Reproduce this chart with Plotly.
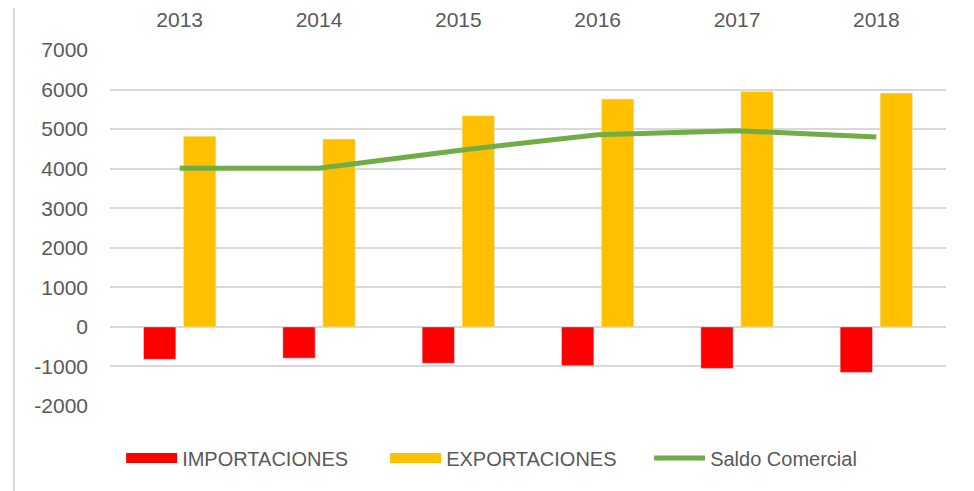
import plotly.graph_objects as go

# data
years = ["2013", "2014", "2015", "2016", "2017", "2018"]
importaciones = [-820, -790, -920, -980, -1050, -1150]
exportaciones = [4820, 4750, 5340, 5760, 5950, 5910]
saldo = [4010, 4010, 4460, 4860, 4960, 4800]
ytick_vals = [-2000, -1000, 0, 1000, 2000, 3000, 4000, 5000, 6000, 7000]
ytick_text = ["-2000", "-1000", "0", "1000", "2000", "3000", "4000", "5000", "6000", "7000"]

font_family = "Liberation Sans, Arial, sans-serif"
gray = "#595959"

fig = go.Figure()
fig.add_trace(go.Bar(x=years, y=importaciones, name="IMPORTACIONES",
                     marker=dict(color="#FF0000"), showlegend=False))
fig.add_trace(go.Bar(x=years, y=exportaciones, name="EXPORTACIONES",
                     marker=dict(color="#FFC000"), showlegend=False))
fig.add_trace(go.Scatter(x=years, y=saldo, name="Saldo Comercial", mode="lines",
                         line=dict(color="#70AD47", width=5), showlegend=False))

# legend-only entries with wide swatches like the original
fig.add_trace(go.Scatter(x=[None], y=[None], name="IMPORTACIONES", mode="lines",
                         line=dict(color="#FF0000", width=11)))
fig.add_trace(go.Scatter(x=[None], y=[None], name="EXPORTACIONES", mode="lines",
                         line=dict(color="#FFC000", width=11)))
fig.add_trace(go.Scatter(x=[None], y=[None], name="Saldo Comercial", mode="lines",
                         line=dict(color="#70AD47", width=5)))

# margins allow for the 8px page margin around the plot div
fig.update_layout(
    width=974, height=491,
    margin=dict(l=102, r=36, t=42, b=93),
    paper_bgcolor="white", plot_bgcolor="white",
    font=dict(family=font_family, size=20, color=gray),
    barmode="group", bargap=0.426, bargroupgap=0.19,
    legend=dict(orientation="h", x=0.487, xanchor="center", y=-0.146, yanchor="middle",
                font=dict(size=20, color=gray), itemwidth=51,
                entrywidth=198, entrywidthmode="pixels", bgcolor="rgba(0,0,0,0)"),
    shapes=[
        dict(type="line", xref="paper", yref="paper", x0=-0.1149, x1=-0.1149, y0=-0.5, y1=1.5,
             line=dict(color="#d9d9d9", width=2)),
        dict(type="line", xref="paper", yref="paper", x0=1.0327, x1=1.0327, y0=-0.5, y1=1.5,
             line=dict(color="#d9d9d9", width=2)),
    ],
)
fig.update_xaxes(side="top", showgrid=False, zeroline=False, showline=False, automargin=False,
                 ticks="", ticklabelstandoff=18, tickfont=dict(size=21, color=gray))
fig.update_yaxes(range=[-2000, 7000], tickvals=ytick_vals, ticktext=ytick_text, automargin=False,
                 showgrid=True, gridcolor="#d9d9d9", gridwidth=2, zeroline=False,
                 ticks="", ticklabelstandoff=21, tickfont=dict(size=21, color=gray))

fig.write_html("out.html")
